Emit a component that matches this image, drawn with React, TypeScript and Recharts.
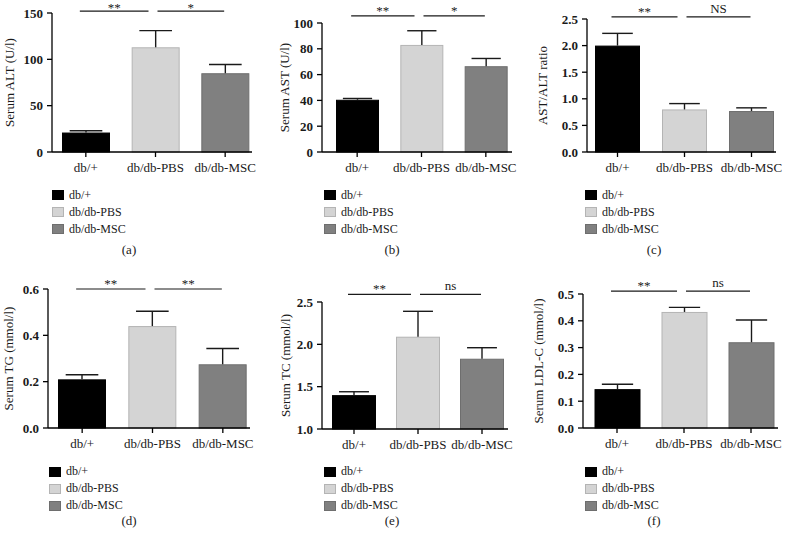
import { BarChart, Bar, XAxis, YAxis, Cell, ReferenceLine } from 'recharts'

const groups = ['db/+', 'db/db-PBS', 'db/db-MSC']
const fills = ['#000000', '#d4d4d4', '#808080']
const edges = ['#000000', '#b4b4b4', '#6e6e6e']

const altMean = [21, 113, 85]
const altSem = [2, 18, 9.5]
const altTicks = [0, 50, 100, 150]
const altSig = ['**', '*']

const astMean = [40.5, 83, 66.5]
const astSem = [1, 11, 6]
const astTicks = [0, 20, 40, 60, 80, 100]
const astSig = ['**', '*']

const ratioMean = [2.0, 0.8, 0.77]
const ratioSem = [0.23, 0.11, 0.06]
const ratioTicks = [0, 0.5, 1.0, 1.5, 2.0, 2.5]
const ratioSig = ['**', 'NS']

const tgMean = [0.21, 0.44, 0.275]
const tgSem = [0.02, 0.064, 0.068]
const tgTicks = [0, 0.2, 0.4, 0.6]
const tgSig = ['**', '**']

const tcMean = [1.4, 2.09, 1.83]
const tcSem = [0.04, 0.3, 0.13]
const tcTicks = [1.0, 1.5, 2.0, 2.5]
const tcSig = ['**', 'ns']

const ldlMean = [0.145, 0.433, 0.32]
const ldlSem = [0.018, 0.017, 0.083]
const ldlTicks = [0, 0.1, 0.2, 0.3, 0.4, 0.5]
const ldlSig = ['**', 'ns']

const FONT = "'Liberation Serif', 'Times New Roman', serif"
const INK = '#1a1a1a'
const W = 262
const H = 185
const Y_W = 40
const X_H = 30
// pixel trims on the two significance bars (left end, right end)
const TRIM = [[-6, -7], [2, -1]]

const panels = [
  { letter: '(a)', yLabel: 'Serum ALT (U/l)', means: altMean, sems: altSem, domain: [0, 150], ticks: altTicks, digits: 0, sig: altSig, bracketY: 152,
    bx: 0, by: 0, axisX: 52, axisEnd: 252, bandStart: 51, bandEnd: 260, top: 13, bottom: 152, barSize: 48, labelX: 9, legendX: 52, legendY: 186.5, letterX: 129, letterY: 250 },
  { letter: '(b)', yLabel: 'Serum AST (U/l)', means: astMean, sems: astSem, domain: [0, 100], ticks: astTicks, digits: 0, sig: astSig, bracketY: 105.5,
    bx: 262, by: 0, axisX: 322, axisEnd: 512, bandStart: 325, bandEnd: 518, top: 23, bottom: 152, barSize: 43, labelX: 284, legendX: 324, legendY: 186.5, letterX: 392, letterY: 250 },
  { letter: '(c)', yLabel: 'AST/ALT ratio', means: ratioMean, sems: ratioSem, domain: [0, 2.5], ticks: ratioTicks, digits: 1, sig: ratioSig, bracketY: 2.54,
    bx: 523, by: 0, axisX: 587, axisEnd: 776, bandStart: 584, bandEnd: 785, top: 19, bottom: 152, barSize: 45, labelX: 542, legendX: 585, legendY: 186.5, letterX: 654, letterY: 250 },
  { letter: '(d)', yLabel: 'Serum TG (mmol/l)', means: tgMean, sems: tgSem, domain: [0, 0.6], ticks: tgTicks, digits: 1, sig: tgSig, bracketY: 0.6,
    bx: 0, by: 275, axisX: 48, axisEnd: 250, bandStart: 47, bandEnd: 258, top: 289, bottom: 428, barSize: 48, labelX: 8, legendX: 49, legendY: 463, letterX: 129, letterY: 521 },
  { letter: '(e)', yLabel: 'Serum TC (mmol/l)', means: tcMean, sems: tcSem, domain: [1.0, 2.5], ticks: tcTicks, digits: 1, sig: tcSig, bracketY: 2.59,
    bx: 262, by: 275, axisX: 322, axisEnd: 508, bandStart: 322, bandEnd: 514, top: 302, bottom: 429, barSize: 44, labelX: 285, legendX: 324, legendY: 463, letterX: 392, letterY: 521 },
  { letter: '(f)', yLabel: 'Serum LDL-C (mmol/l)', means: ldlMean, sems: ldlSem, domain: [0, 0.5], ticks: ldlTicks, digits: 1, sig: ldlSig, bracketY: 0.511,
    bx: 523, by: 275, axisX: 583, axisEnd: 778, bandStart: 583.5, bandEnd: 784.5, top: 294, bottom: 428, barSize: 46, labelX: 538, legendX: 585, legendY: 463, letterX: 654, letterY: 521 },
]

type P = (typeof panels)[number]

const barWithError = (base: number) => (p: any) => {
  const { x, y, width, height, payload, fill, stroke } = p
  const ppu = height / (payload.mean - base)
  const top = y - payload.sem * ppu
  const cx = x + width / 2
  const cap = width * 0.34
  return (
    <g>
      <rect x={x + 0.5} y={y + 0.5} width={width - 1} height={Math.max(height - 0.5, 0)} fill={fill} stroke={stroke} strokeWidth={1} />
      <line x1={cx} x2={cx} y1={y} y2={top} stroke={INK} strokeWidth={1.4} />
      <line x1={cx - cap} x2={cx + cap} y1={top} y2={top} stroke={INK} strokeWidth={1.4} />
    </g>
  )
}

const bracket = (text: string, trim: number[]) => (p: any) => {
  const x1 = p.x1 + trim[0]
  const x2 = p.x2 + trim[1]
  const y = p.y1
  const star = text.includes('*')
  // keep the text box inside the svg when the bar sits near its top edge
  const ty = Math.max(star ? y - 1 : y - 4, 12)
  return (
    <g>
      <line x1={x1} x2={x2} y1={y} y2={y} stroke={INK} strokeWidth={1.2} />
      <text x={(x1 + x2) / 2} y={ty} textAnchor="middle" fontSize={13} fill={INK}>
        {text}
      </text>
    </g>
  )
}

function Panel({ d }: { d: P }) {
  const data = groups.map((name, i) => ({ name, mean: d.means[i], sem: d.sems[i] }))
  const margin = {
    top: d.top - d.by,
    left: d.axisX - d.bx - Y_W,
    right: d.bx + W - d.axisEnd,
    bottom: d.by + H - d.bottom - X_H,
  }
  return (
    <>
      <div style={{ position: 'absolute', left: d.bx, top: d.by }}>
        <BarChart width={W} height={H} data={data} margin={margin} style={{ overflow: 'visible' }}>
          <XAxis
            dataKey="name"
            height={X_H}
            padding={{ left: d.bandStart - d.axisX, right: d.axisEnd - d.bandEnd }}
            axisLine={{ stroke: '#000', strokeWidth: 1.3 }}
            tickLine={{ stroke: '#000', strokeWidth: 1.3 }}
            tickSize={5}
            tickMargin={6}
            tick={{ fill: INK, fontSize: 13 }}
            interval={0}
          />
          <YAxis
            width={Y_W}
            domain={d.domain as [number, number]}
            ticks={d.ticks}
            interval={0}
            tickFormatter={(v: number) => v.toFixed(d.digits)}
            axisLine={{ stroke: '#000', strokeWidth: 1.3 }}
            tickLine={{ stroke: '#000', strokeWidth: 1.3 }}
            tickSize={5}
            tickMargin={4}
            tick={{ fill: INK, fontSize: 13, fontWeight: 'bold' }}
            label={{
              content: (lp: any) => {
                const vb = lp.viewBox
                const cy = vb.y + vb.height / 2
                const cx = d.labelX - d.bx
                return (
                  <text x={cx} y={cy} transform={`rotate(-90 ${cx} ${cy})`} textAnchor="middle" dominantBaseline="central" fontSize={13} fill={INK}>
                    {d.yLabel}
                  </text>
                )
              },
            }}
          />
          <Bar dataKey="mean" barSize={d.barSize} isAnimationActive={false} shape={barWithError(d.domain[0])}>
            {data.map((_, i) => (
              <Cell key={i} fill={fills[i]} stroke={edges[i]} />
            ))}
          </Bar>
          {d.sig.map((s, i) => (
            <ReferenceLine
              key={i}
              ifOverflow="visible"
              segment={[{ x: groups[i], y: d.bracketY }, { x: groups[i + 1], y: d.bracketY }]}
              shape={bracket(s, TRIM[i])}
            />
          ))}
        </BarChart>
      </div>
      <div style={{ position: 'absolute', left: d.legendX, top: d.legendY, fontSize: 12, color: INK }}>
        {groups.map((g, i) => (
          <div key={g} style={{ display: 'flex', alignItems: 'center', height: 17 }}>
            <span style={{ width: 12, height: 10, background: fills[i], border: `1px solid ${edges[i]}`, boxSizing: 'border-box', marginRight: 5 }} />
            <span>{g}</span>
          </div>
        ))}
      </div>
      <div style={{ position: 'absolute', left: d.letterX - 20, top: d.letterY - 8, width: 40, textAlign: 'center', fontSize: 13, lineHeight: '16px', color: INK }}>
        {d.letter}
      </div>
    </>
  )
}

export default function App() {
  return (
    <div style={{ position: 'absolute', left: 0, top: 0, width: 785, height: 549, background: '#fff', fontFamily: FONT, overflow: 'hidden' }}>
      {panels.map((d) => (
        <Panel key={d.letter} d={d} />
      ))}
    </div>
  )
}
